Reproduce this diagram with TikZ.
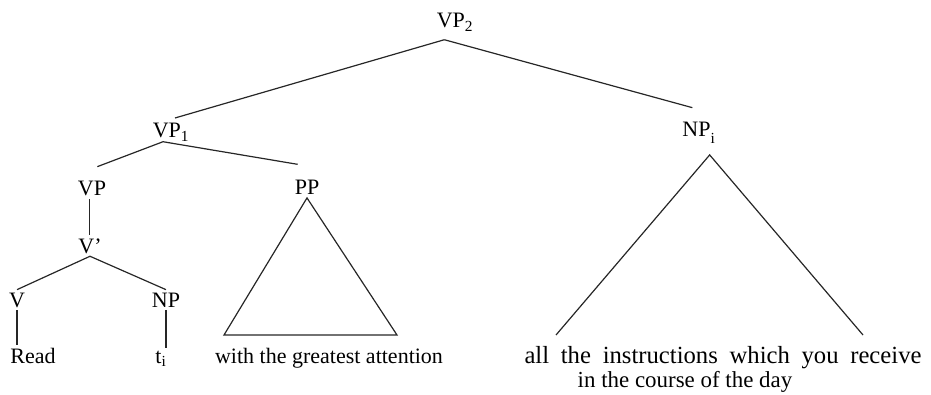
\documentclass[tikz,border=0pt]{standalone}
\usepackage{fontspec}
\setmainfont{Liberation Serif}
\usetikzlibrary{positioning, calc}
\tikzstyle{cat} = [inner sep=2pt, anchor=base, text=black, font=\fontsize{16.5}{19}\selectfont]
\tikzstyle{line} = [line width=0.9pt, color=black!85]

\begin{document}
\begin{tikzpicture}[x=0.75pt, y=-0.75pt]
        \useasboundingbox (0,0) rectangle (931,395);

        % categories
        \node [cat] (vp2) at (455,28) {VP\textsubscript{2}};
        \node [cat] (vp1) at (171,138) {VP\textsubscript{1}};
        \node [cat] (npi) at (699,137) {NP\textsubscript{\raisebox{-0.5ex}{i}}};
        \node [cat] (vp) at (92,196) {VP};
        \node [cat] (pp) at (307,195) {PP};
        \node [cat] (vbar) at (90,253) {V'};
        \node [cat] (v) at (17,307) {V};
        \node [cat] (np) at (166,307) {NP};

        % words
        \node [cat] (read) at (33,363) {Read};
        \node [cat] (ti) at (161,363) {t\textsubscript{i}};
        \node [cat] (pptext) at (329,363) {with the greatest attention};
        \node [cat, font=\fontsize{18.5}{21}\selectfont] (nptext) at (723,363) {\makebox[297.75pt][s]{all the instructions which you receive}};
        \node [cat, font=\fontsize{17.2}{20}\selectfont] (nptext2) at (685,387) {in the course of the day};

        % triangle corners
        \coordinate (ppL) at (224,335);
        \coordinate (ppR) at (397,335);
        \coordinate (npL) at (556,335);
        \coordinate (npR) at (863,335);

        \draw [line] ([xshift=-8pt,yshift=-4pt]vp2.south) -- ([xshift=3pt,yshift=2pt]vp1.north);
        \draw [line] ([xshift=-8pt,yshift=-4pt]vp2.south) -- ([xshift=-5pt,yshift=9pt]npi.north);
        \draw [line] ([xshift=-6pt,yshift=2pt]vp1.south) -- ([xshift=4pt,yshift=9pt]vp.north);
        \draw [line] ([xshift=-6pt,yshift=2pt]vp1.south) -- ([xshift=-7pt,yshift=10pt]pp.north);
        \draw [line] ([xshift=-2pt]vp.south) -- ([xshift=-2pt]vp.south |- vbar.north);
        \draw [line] (vbar.south) -- (v.north);
        \draw [line] (vbar.south) -- (np.north);
        \draw [line] (v.south) -- (v.south |- read.north);
        \draw [line] (np.south) -- (np.south |- ti.north);

        \draw [line] (pp.south) -- (ppL) -- (ppR) -- cycle;
        \draw [line] (npL) -- ([xshift=8pt,yshift=-6pt]npi.south) -- (npR);
    \end{tikzpicture}
\end{document}
